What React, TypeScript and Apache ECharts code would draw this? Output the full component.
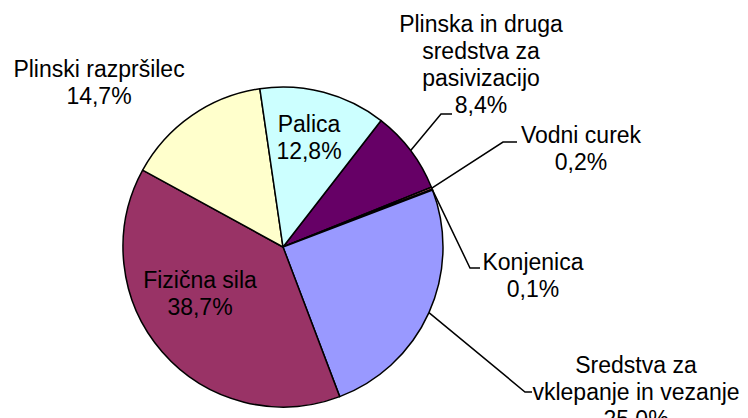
import React, { useEffect, useRef } from "react";
import * as echarts from "echarts";

const categories = [
  "Plinska in druga\nsredstva za\npasivizacijo",
  "Vodni curek",
  "Konjenica",
  "Sredstva za\nvklepanje in vezanje",
  "Fizična sila",
  "Plinski razpršilec",
  "Palica",
];
const values = [8.4, 0.2, 0.1, 25.0, 38.7, 14.7, 12.8];
const colors = ["#660066", "#FF8080", "#0066CC", "#9999FF", "#993366", "#FFFFCC", "#CCFFFF"];

// label block centres (layout)
const labelPos: [number, number][] = [
  [481, 64],
  [581, 148],
  [533, 275],
  [636, 392],
  [200, 293],
  [99, 82],
  [309, 137],
];
// leader line elbow + end points (layout), null = no leader
const leaderBends: ([number, number][] | null)[] = [
  [[441, 114], [452, 114]],
  [[503, 142], [517, 142]],
  [[470, 268], [480, 268]],
  [[525, 392], [532, 392]],
  null,
  null,
  null,
];

const CX = 283;
const CY = 247;
const R = 160;
const START_FROM_TOP = 37.8; // degrees clockwise from 12 o'clock

export default function App() {
  const ref = useRef<HTMLDivElement>(null);
  useEffect(() => {
    document.body.style.margin = "0";
    const chart = echarts.init(ref.current!, null, { renderer: "svg" });
    const total = values.reduce((a, b) => a + b, 0);
    let cum = 0;
    const leaders: any[] = [];
    values.forEach((v, i) => {
      const mid = START_FROM_TOP + ((cum + v / 2) / total) * 360;
      cum += v;
      const bends = leaderBends[i];
      if (!bends) return;
      const rad = (mid * Math.PI) / 180;
      const sx = CX + R * Math.sin(rad);
      const sy = CY - R * Math.cos(rad);
      leaders.push({
        type: "polyline",
        z: 10,
        shape: { points: [[sx, sy], ...bends] },
        style: { stroke: "#000", lineWidth: 1.5, fill: null },
      });
    });
    chart.setOption({
      animation: false,
      backgroundColor: "#fff",
      textStyle: { fontFamily: "Liberation Sans, Arial, sans-serif" },
      graphic: leaders,
      series: [
        {
          type: "pie",
          center: [CX, CY],
          radius: R,
          startAngle: 90 - START_FROM_TOP,
          clockwise: true,
          avoidLabelOverlap: false,
          data: categories.map((name, i) => ({
            name,
            value: values[i],
            itemStyle: { color: colors[i] },
          })),
          itemStyle: { borderColor: "#000", borderWidth: 1.5 },
          label: {
            show: true,
            color: "#000",
            fontSize: 23,
            lineHeight: 27,
            align: "center",
            fontFamily: "Liberation Sans, Arial, sans-serif",
            formatter: (p: any) => p.name + "\n" + p.value.toFixed(1).replace(".", ",") + "%",
          },
          labelLine: { show: false },
          labelLayout: (params: any) => ({
            x: labelPos[params.dataIndex][0],
            y: labelPos[params.dataIndex][1],
            align: "center",
            verticalAlign: "middle",
            hideOverlap: false,
          }),
          emphasis: { disabled: true },
        },
      ],
    });
    return () => chart.dispose();
  }, []);
  return <div ref={ref} style={{ width: 748, height: 418 }} />;
}
